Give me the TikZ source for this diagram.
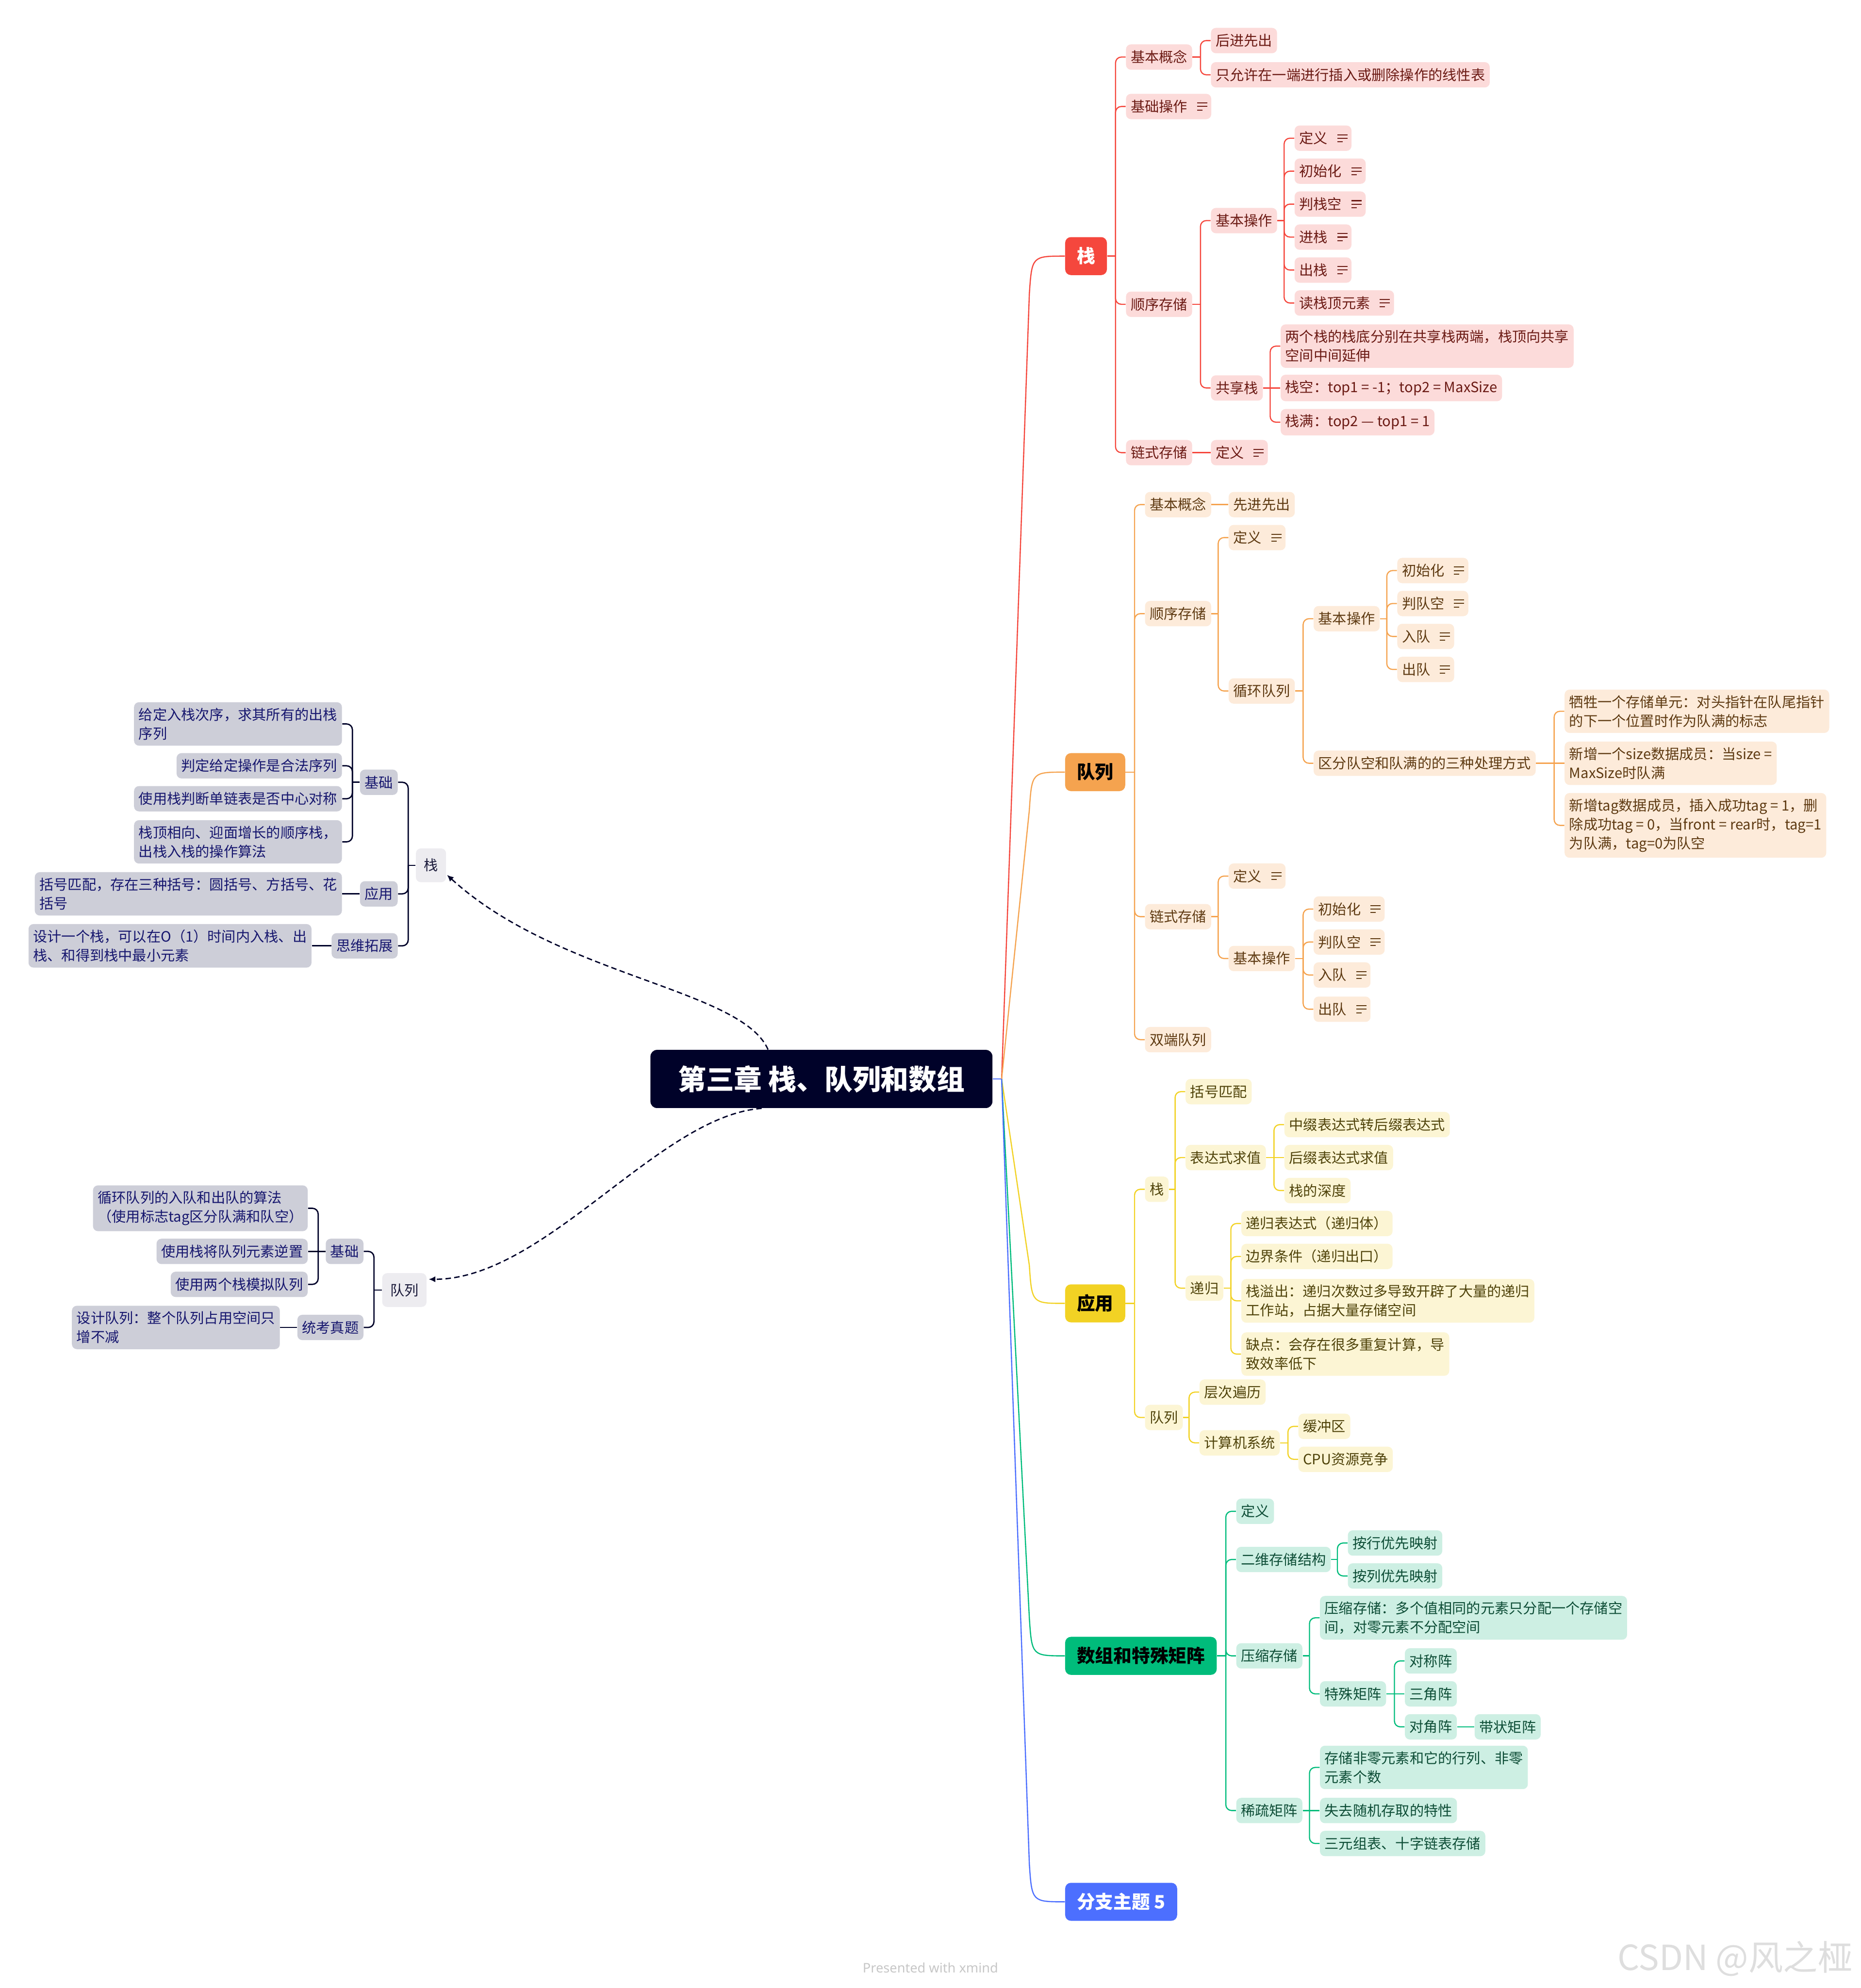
\documentclass[tikz,border=0pt]{standalone}
\usepackage{fontspec}
\setmainfont{Noto Sans CJK SC}
\newfontfamily\footfont{Noto Sans}
\usetikzlibrary{calc,arrows.meta}
\definecolor{navy}{HTML}{000229}
\definecolor{rmain}{HTML}{F5473D}
\definecolor{rfill}{HTML}{FCDBDA}
\definecolor{rtext}{HTML}{6B1A14}
\definecolor{omain}{HTML}{F5A34F}
\definecolor{ofill}{HTML}{FDEBDA}
\definecolor{otext}{HTML}{5E3A12}
\definecolor{ymain}{HTML}{F2D224}
\definecolor{yfill}{HTML}{FCF5D4}
\definecolor{ytext}{HTML}{4F430A}
\definecolor{gmain}{HTML}{00BC7B}
\definecolor{gfill}{HTML}{CDEFE3}
\definecolor{gtext}{HTML}{0D4D36}
\definecolor{bmain}{HTML}{4C6FFF}
\definecolor{lfill}{HTML}{CDCED8}
\definecolor{ltext}{HTML}{16166E}
\definecolor{lhubc}{HTML}{EDECF0}
\definecolor{ltexttwo}{HTML}{1A1A3A}
\tikzset{
  sub/.style={rounded corners=3pt, inner xsep=0.1cm, inner ysep=0.12cm, minimum height=0.54cm, anchor=west, align=left, font=\fontsize{8.6pt}{11.5pt}\selectfont},
  rsub/.style={sub, fill=rfill, text=rtext},
  osub/.style={sub, fill=ofill, text=otext},
  ysub/.style={sub, fill=yfill, text=ytext},
  gsub/.style={sub, fill=gfill, text=gtext},
  lsub/.style={sub, anchor=east, fill=lfill, text=ltext},
  lhub/.style={sub, anchor=center, fill=lhubc, text=ltexttwo, minimum height=0.72cm, inner xsep=0.17cm},
  mainb/.style={rounded corners=3.5pt, inner xsep=0.25cm, minimum height=0.81cm, anchor=west, font=\fontsize{11.1pt}{13pt}\selectfont\bfseries},
  rootb/.style={rounded corners=4pt, fill=navy, text=white, minimum width=7.29cm, minimum height=1.24cm, font=\fontsize{17pt}{20pt}\selectfont\bfseries},
  rln/.style={draw=rmain, line width=0.7pt},
  oln/.style={draw=omain, line width=0.7pt},
  yln/.style={draw=ymain, line width=0.7pt},
  gln/.style={draw=gmain, line width=0.7pt},
  bln/.style={draw=bmain, line width=0.7pt},
  nln/.style={draw=navy, line width=0.8pt},
  dashln/.style={draw=navy, line width=0.8pt, dash pattern=on 3.3pt off 2pt, -{Latex[length=1.4mm,width=1.3mm]}},
}
% right-side elbow link
\newcommand\lk[3]{%
  \draw[#1] (#2.east) -- ($(#2.east -| #3.west)+(-8,0)$);
  \draw[#1,rounded corners=3.5pt] ($(#2.east -| #3.west)+(-8,0)$) |- (#3.west);}
\newcommand\lks[3]{\draw[#1] (#2.east) -- (#3.west);}
% left-side elbow link
\newcommand\lkl[3]{%
  \draw[#1] (#2.west) -- ($(#2.west -| #3.east)+(8,0)$);
  \draw[#1,rounded corners=3.5pt] ($(#2.west -| #3.east)+(8,0)$) |- (#3.east);}
\newcommand\lkls[3]{\draw[#1] (#2.west) -- (#3.east);}
% note icon
\newcommand\ico[2]{\draw[line width=0.6pt,#2] ($(#1.east)+(-11.5,-2.7)$) -- ++(8,0) ($(#1.east)+(-11.5,0)$) -- ++(8,0) ($(#1.east)+(-11.5,2.8)$) -- ++(4.2,0);}
\newcommand\gap{\hspace{1.35em}}
\begin{document}
\begin{tikzpicture}[x=0.027016cm,y=-0.027016cm]
\useasboundingbox (0,0) rectangle (1468,1568);
\fill[white] (0,0) rectangle (1468,1568);

% ---------- root ----------
\node[rootb] (root) at (648,851) {第三章 栈、队列和数组};

% ---------- main branches ----------
\node[mainb, fill=rmain, text=white] (s) at (840,202) {栈};
\node[mainb, fill=omain, text=black] (q) at (840,609) {队列};
\node[mainb, fill=ymain, text=black] (a) at (840,1028) {应用};
\node[mainb, fill=gmain, text=black] (m) at (840,1306) {数组和特殊矩阵};
\node[mainb, fill=bmain, text=white] (b5) at (840,1500) {分支主题 5};

\coordinate (hub) at ($(root.east)+(7,0)$);
\draw[bln] (root.east) -- (hub);
\draw[rln] (hub) -- ($(s.west)+(-28,30)$) .. controls ($(s.west)+(-26,0)$) .. (s.west);
\draw[oln] (hub) -- ($(q.west)+(-28,30)$) .. controls ($(q.west)+(-26,0)$) .. (q.west);
\draw[yln] (hub) -- ($(a.west)+(-28,-30)$) .. controls ($(a.west)+(-26,0)$) .. (a.west);
\draw[gln] (hub) -- ($(m.west)+(-28,-30)$) .. controls ($(m.west)+(-26,0)$) .. (m.west);
\draw[bln] (hub) -- ($(b5.west)+(-28,-30)$) .. controls ($(b5.west)+(-26,0)$) .. (b5.west);

% ---------- stack (red) ----------
\node[rsub] (s1) at (888,45) {基本概念};
\node[rsub] (s11) at (955,32) {后进先出};
\node[rsub] (s12) at (955,59) {只允许在一端进行插入或删除操作的线性表};
\node[rsub] (s2) at (888,84) {基础操作\gap};
\node[rsub] (s3) at (888,240) {顺序存储};
\node[rsub] (s31) at (955,174) {基本操作};
\node[rsub] (s311) at (1021,109) {定义\gap};
\node[rsub] (s312) at (1021,135) {初始化\gap};
\node[rsub] (s313) at (1021,161) {判栈空\gap};
\node[rsub] (s314) at (1021,187) {进栈\gap};
\node[rsub] (s315) at (1021,213) {出栈\gap};
\node[rsub] (s316) at (1021,239) {读栈顶元素\gap};
\node[rsub] (s32) at (955,306) {共享栈};
\node[rsub] (s321) at (1010,273) {两个栈的栈底分别在共享栈两端，栈顶向共享\\空间中间延伸};
\node[rsub] (s322) at (1010,306) {栈空：top1 = -1；top2 = MaxSize};
\node[rsub] (s323) at (1010,333) {栈满：top2 — top1 = 1};
\node[rsub] (s4) at (888,357) {链式存储};
\node[rsub] (s41) at (955,357) {定义\gap};
\foreach \n in {s2,s311,s312,s313,s314,s315,s316,s41} {\ico{\n}{rtext}}

\lk{rln}{s}{s1} \lk{rln}{s}{s2} \lk{rln}{s}{s3} \lk{rln}{s}{s4}
\lk{rln}{s1}{s11} \lk{rln}{s1}{s12}
\lk{rln}{s3}{s31} \lk{rln}{s3}{s32}
\lk{rln}{s31}{s311} \lk{rln}{s31}{s312} \lk{rln}{s31}{s313}
\lk{rln}{s31}{s314} \lk{rln}{s31}{s315} \lk{rln}{s31}{s316}
\lk{rln}{s32}{s321} \lks{rln}{s32}{s322} \lk{rln}{s32}{s323}
\lks{rln}{s4}{s41}

% ---------- queue (orange) ----------
\node[osub] (q1) at (903,398) {基本概念};
\node[osub] (q11) at (969,398) {先进先出};
\node[osub] (q2) at (903,484) {顺序存储};
\node[osub] (q21) at (969,424) {定义\gap};
\node[osub] (q22) at (969,545) {循环队列};
\node[osub] (q221) at (1036,488) {基本操作};
\node[osub] (q2211) at (1102,450) {初始化\gap};
\node[osub] (q2212) at (1102,476) {判队空\gap};
\node[osub] (q2213) at (1102,502) {入队\gap};
\node[osub] (q2214) at (1102,528) {出队\gap};
\node[osub] (q222) at (1036,602) {区分队空和队满的的三种处理方式};
\node[osub] (q2221) at (1234,561) {牺牲一个存储单元：对头指针在队尾指针\\的下一个位置时作为队满的标志};
\node[osub] (q2222) at (1234,602) {新增一个size数据成员：当size =\\MaxSize时队满};
\node[osub] (q2223) at (1234,651) {新增tag数据成员，插入成功tag = 1，删\\除成功tag = 0，当front = rear时，tag=1\\为队满，tag=0为队空};
\node[osub] (q3) at (903,723) {链式存储};
\node[osub] (q31) at (969,691) {定义\gap};
\node[osub] (q32) at (969,756) {基本操作};
\node[osub] (q321) at (1036,717) {初始化\gap};
\node[osub] (q322) at (1036,743) {判队空\gap};
\node[osub] (q323) at (1036,769) {入队\gap};
\node[osub] (q324) at (1036,796) {出队\gap};
\node[osub] (q4) at (903,820) {双端队列};
\foreach \n in {q21,q2211,q2212,q2213,q2214,q31,q321,q322,q323,q324} {\ico{\n}{otext}}

\lk{oln}{q}{q1} \lk{oln}{q}{q2} \lk{oln}{q}{q3} \lk{oln}{q}{q4}
\lks{oln}{q1}{q11}
\lk{oln}{q2}{q21} \lk{oln}{q2}{q22}
\lk{oln}{q22}{q221} \lk{oln}{q22}{q222}
\lk{oln}{q221}{q2211} \lk{oln}{q221}{q2212} \lk{oln}{q221}{q2213} \lk{oln}{q221}{q2214}
\lk{oln}{q222}{q2221} \lks{oln}{q222}{q2222} \lk{oln}{q222}{q2223}
\lk{oln}{q3}{q31} \lk{oln}{q3}{q32}
\lk{oln}{q32}{q321} \lk{oln}{q32}{q322} \lk{oln}{q32}{q323} \lk{oln}{q32}{q324}

% ---------- applications (yellow) ----------
\node[ysub] (a1) at (903,938) {栈};
\node[ysub] (a11) at (935,861) {括号匹配};
\node[ysub] (a12) at (935,913) {表达式求值};
\node[ysub] (a121) at (1013,887) {中缀表达式转后缀表达式};
\node[ysub] (a122) at (1013,913) {后缀表达式求值};
\node[ysub] (a123) at (1013,939) {栈的深度};
\node[ysub] (a13) at (935,1016) {递归};
\node[ysub] (a131) at (979,965) {递归表达式（递归体）};
\node[ysub] (a132) at (979,991) {边界条件（递归出口）};
\node[ysub] (a133) at (979,1026) {栈溢出：递归次数过多导致开辟了大量的递归\\工作站，占据大量存储空间};
\node[ysub] (a134) at (979,1068) {缺点：会存在很多重复计算，导\\致效率低下};
\node[ysub] (a2) at (903,1118) {队列};
\node[ysub] (a21) at (946,1098) {层次遍历};
\node[ysub] (a22) at (946,1138) {计算机系统};
\node[ysub] (a221) at (1024,1125) {缓冲区};
\node[ysub] (a222) at (1024,1151) {CPU资源竞争};

\lk{yln}{a}{a1} \lk{yln}{a}{a2}
\lk{yln}{a1}{a11} \lk{yln}{a1}{a12} \lk{yln}{a1}{a13}
\lk{yln}{a12}{a121} \lks{yln}{a12}{a122} \lk{yln}{a12}{a123}
\lk{yln}{a13}{a131} \lk{yln}{a13}{a132} \lk{yln}{a13}{a133} \lk{yln}{a13}{a134}
\lk{yln}{a2}{a21} \lk{yln}{a2}{a22}
\lk{yln}{a22}{a221} \lk{yln}{a22}{a222}

% ---------- arrays (green) ----------
\node[gsub] (m1) at (975,1192) {定义};
\node[gsub] (m2) at (975,1230) {二维存储结构};
\node[gsub] (m21) at (1063,1217) {按行优先映射};
\node[gsub] (m22) at (1063,1243) {按列优先映射};
\node[gsub] (m3) at (975,1306) {压缩存储};
\node[gsub] (m31) at (1041,1276) {压缩存储：多个值相同的元素只分配一个存储空\\间，对零元素不分配空间};
\node[gsub] (m32) at (1041,1336) {特殊矩阵};
\node[gsub] (m321) at (1108,1310) {对称阵};
\node[gsub] (m322) at (1108,1336) {三角阵};
\node[gsub] (m323) at (1108,1362) {对角阵};
\node[gsub] (m3231) at (1163,1362) {带状矩阵};
\node[gsub] (m4) at (975,1428) {稀疏矩阵};
\node[gsub] (m41) at (1041,1394) {存储非零元素和它的行列、非零\\元素个数};
\node[gsub] (m42) at (1041,1428) {失去随机存取的特性};
\node[gsub] (m43) at (1041,1454) {三元组表、十字链表存储};

\lk{gln}{m}{m1} \lk{gln}{m}{m2} \lk{gln}{m}{m3} \lk{gln}{m}{m4}
\lk{gln}{m2}{m21} \lk{gln}{m2}{m22}
\lk{gln}{m3}{m31} \lk{gln}{m3}{m32}
\lk{gln}{m32}{m321} \lks{gln}{m32}{m322} \lk{gln}{m32}{m323}
\lks{gln}{m323}{m3231}
\lk{gln}{m4}{m41} \lks{gln}{m4}{m42} \lk{gln}{m4}{m43}

% ---------- left: stack ----------
\node[lhub] (L) at (340,682.5) {栈};
\node[lsub] (Lb) at (314,617) {基础};
\node[lsub] (Lb1) at (270,571) {给定入栈次序，求其所有的出栈\\序列};
\node[lsub] (Lb2) at (270,604) {判定给定操作是合法序列};
\node[lsub] (Lb3) at (270,630) {使用栈判断单链表是否中心对称};
\node[lsub] (Lb4) at (270,664) {栈顶相向、迎面增长的顺序栈，\\出栈入栈的操作算法};
\node[lsub] (La) at (314,705) {应用};
\node[lsub] (La1) at (270,705) {括号匹配，存在三种括号：圆括号、方括号、花\\括号};
\node[lsub] (Lt) at (314,746) {思维拓展};
\node[lsub] (Lt1) at (246,746) {设计一个栈，可以在O（1）时间内入栈、出\\栈、和得到栈中最小元素};

\lkl{nln}{L}{Lb} \lkl{nln}{L}{La} \lkl{nln}{L}{Lt}
\lkl{nln}{Lb}{Lb1} \lkl{nln}{Lb}{Lb2} \lkl{nln}{Lb}{Lb3} \lkl{nln}{Lb}{Lb4}
\lkls{nln}{La}{La1}
\lkls{nln}{Lt}{Lt1}

% ---------- left: queue ----------
\node[lhub] (Q) at (319,1017.5) {队列};
\node[lsub] (Qb) at (287,987) {基础};
\node[lsub] (Qb1) at (243,953) {循环队列的入队和出队的算法\\（使用标志tag区分队满和队空）};
\node[lsub] (Qb2) at (243,987) {使用栈将队列元素逆置};
\node[lsub] (Qb3) at (243,1013) {使用两个栈模拟队列};
\node[lsub] (Qt) at (287,1047) {统考真题};
\node[lsub] (Qt1) at (221,1047) {设计队列：整个队列占用空间只\\增不减};

\lkl{nln}{Q}{Qb} \lkl{nln}{Q}{Qt}
\lkl{nln}{Qb}{Qb1} \lkls{nln}{Qb}{Qb2} \lkl{nln}{Qb}{Qb3}
\lkls{nln}{Qt}{Qt1}

% ---------- dashed relationship arrows ----------
\draw[dashln] ($(root.north west)+(93,0)$) .. controls ($(root.north west)+(72,-48)$) and (440,770) .. ($(L.south east)+(0.5,-6)$);
\draw[dashln] ($(root.south west)+(88,0)$) .. controls (520,880) and (430,1009) .. ($(Q.east)+(1.5,-8.5)$);

% ---------- footer ----------
\node[text=black!22, font=\footfont\fontsize{8pt}{10pt}\selectfont] (foot) at (734,1552) {Presented with \textbf{xmind}};
\node[text=black!13, font=\fontsize{21pt}{24pt}\selectfont, anchor=east] (wm) at (1466,1545) {CSDN @风之桠};
\end{tikzpicture}
\end{document}
